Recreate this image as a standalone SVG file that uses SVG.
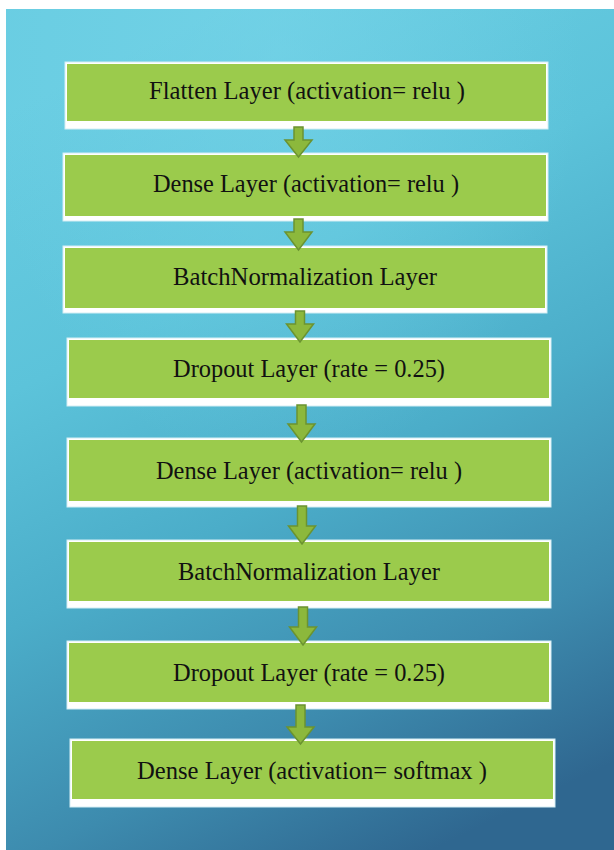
<svg xmlns="http://www.w3.org/2000/svg" width="614" height="850" viewBox="0 0 614 850">
  <style>
    .frame { fill: #ffffff; stroke: #d4eef4; stroke-width: 1; }
    .face { fill: #9bcb4c; }
    .label { font-family: "Liberation Serif", "DejaVu Serif", serif; font-size: 26px; fill: #111111; text-anchor: middle; }
    .arrow { fill: #8cb83c; stroke: #6b9330; stroke-width: 1.5; stroke-linejoin: miter; }
  </style>
  <defs>
    <linearGradient id="bg" x1="0.35" y1="0" x2="0.7" y2="1">
      <stop offset="0" stop-color="#69cde2"/>
      <stop offset="0.3" stop-color="#5cc3da"/>
      <stop offset="0.55" stop-color="#4badc9"/>
      <stop offset="0.8" stop-color="#3d8bae"/>
      <stop offset="1" stop-color="#2f6790"/>
    </linearGradient>
    <radialGradient id="glow" cx="0.45" cy="0.05" r="0.5">
      <stop offset="0" stop-color="#7ad6ea" stop-opacity="0.5"/>
      <stop offset="1" stop-color="#7ad6ea" stop-opacity="0"/>
    </radialGradient>
  </defs>
  <rect x="0" y="0" width="614" height="850" fill="#ffffff"/>
  <rect x="6" y="9" width="608" height="841" fill="url(#bg)"/>
  <rect x="6" y="9" width="608" height="841" fill="url(#glow)"/>

  <g id="node1">
    <rect class="frame" x="65" y="62" width="483" height="67"/>
    <rect class="face" x="67" y="64" width="479" height="57"/>
    <text class="label" x="307" y="99" textLength="316" lengthAdjust="spacingAndGlyphs">Flatten Layer (activation= relu )</text>
  </g>
  <g id="node2">
    <rect class="frame" x="63" y="153" width="485" height="68"/>
    <rect class="face" x="65" y="155" width="481" height="61"/>
    <text class="label" x="306" y="192" textLength="306" lengthAdjust="spacingAndGlyphs">Dense Layer (activation= relu )</text>
  </g>
  <g id="node3">
    <rect class="frame" x="63" y="246" width="484" height="67"/>
    <rect class="face" x="65" y="248" width="480" height="60"/>
    <text class="label" x="305" y="285" textLength="264" lengthAdjust="spacingAndGlyphs">BatchNormalization Layer</text>
  </g>
  <g id="node4">
    <rect class="frame" x="67" y="338" width="484" height="68"/>
    <rect class="face" x="69" y="340" width="480" height="58"/>
    <text class="label" x="309" y="377" textLength="272" lengthAdjust="spacingAndGlyphs">Dropout Layer (rate = 0.25)</text>
  </g>
  <g id="node5">
    <rect class="frame" x="67" y="438" width="484" height="69"/>
    <rect class="face" x="69" y="440" width="480" height="61"/>
    <text class="label" x="309" y="479" textLength="306" lengthAdjust="spacingAndGlyphs">Dense Layer (activation= relu )</text>
  </g>
  <g id="node6">
    <rect class="frame" x="67" y="540" width="484" height="68"/>
    <rect class="face" x="69" y="542" width="480" height="59"/>
    <text class="label" x="309" y="580" textLength="262" lengthAdjust="spacingAndGlyphs">BatchNormalization Layer</text>
  </g>
  <g id="node7">
    <rect class="frame" x="67" y="641" width="484" height="68"/>
    <rect class="face" x="69" y="643" width="480" height="59"/>
    <text class="label" x="309" y="681" textLength="272" lengthAdjust="spacingAndGlyphs">Dropout Layer (rate = 0.25)</text>
  </g>
  <g id="node8">
    <rect class="frame" x="70" y="739" width="485" height="68"/>
    <rect class="face" x="72" y="741" width="481" height="58"/>
    <text class="label" x="312" y="779" textLength="350" lengthAdjust="spacingAndGlyphs">Dense Layer (activation= softmax )</text>
  </g>

  <g id="connectors">
    <polygon class="arrow" points="294,127 303,127 303,140 312,140 298.5,157 285,140 294,140"/>
    <polygon class="arrow" points="294,219 303,219 303,232 312,232 298.5,250 285,232 294,232"/>
    <polygon class="arrow" points="295.5,311 304.5,311 304.5,324 313.5,324 300,342 286.5,324 295.5,324"/>
    <polygon class="arrow" points="297,405 306,405 306,424 315,424 301.5,442 288,424 297,424"/>
    <polygon class="arrow" points="297.5,506 306.5,506 306.5,526 315.5,526 302,544 288.5,526 297.5,526"/>
    <polygon class="arrow" points="298.5,607 307.5,607 307.5,627 316.5,627 303,645 289.5,627 298.5,627"/>
    <polygon class="arrow" points="296,705 305,705 305,727 314,727 300.5,744 287,727 296,727"/>
  </g>
</svg>
